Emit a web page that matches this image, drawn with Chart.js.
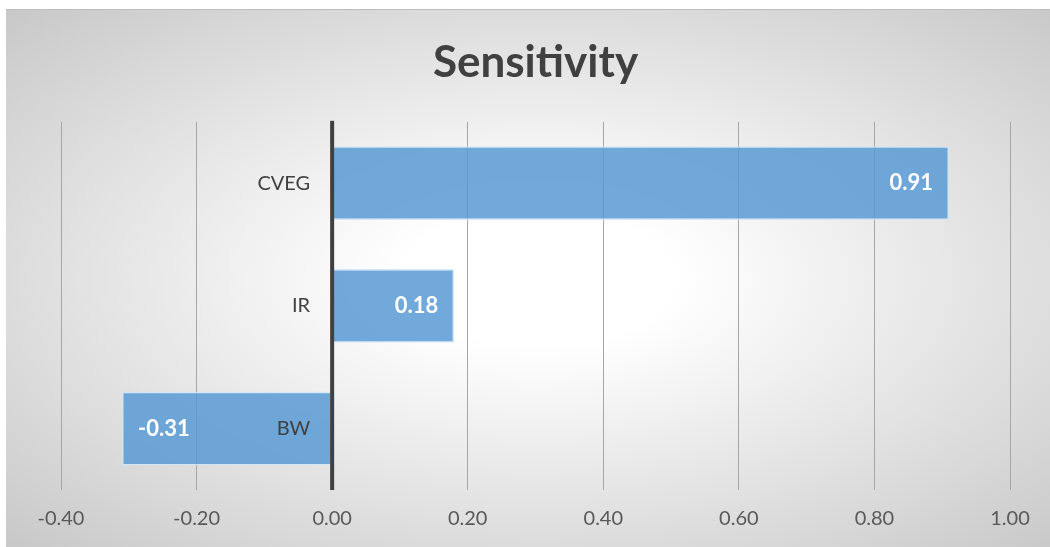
<!DOCTYPE html>
<html>
<head>
<meta charset="utf-8">
<title>Sensitivity</title>
<script src="https://cdn.jsdelivr.net/npm/chart.js@4.4.1/dist/chart.umd.min.js"></script>
<style>
  html, body { margin: 0; padding: 0; background: #fff; }
  #box {
    position: absolute; left: 6px; top: 9px; width: 1044px; height: 538px;
    border-top: 1px solid #bdbdbd;
    box-sizing: border-box;
    background: radial-gradient(ellipse farthest-corner at 51% 50%, #ffffff 0%, #ffffff 18%, #c8c8c8 100%);
  }
  #chart { display: block; }
</style>
</head>
<body>
<div id="box"><canvas id="chart" width="1044" height="537"></canvas></div>
<script>
const categories = ["CVEG", "IR", "BW"];
const sensitivity = [0.91, 0.18, -0.31];
const xMin = -0.4;
const xMax = 1.0;
const xStep = 0.2;

const FONT = "Lato, 'Open Sans', sans-serif";

// category names sit just left of zero, value labels inside bar ends,
// and the dark zero line goes on top of the bars
const overlay = {
  id: "overlay",
  afterDatasetsDraw(chart) {
    const { ctx, chartArea, scales } = chart;
    const x0 = scales.x.getPixelForValue(0);

    ctx.save();
    ctx.fillStyle = "#404040";
    ctx.fillRect(x0 - 2, chartArea.top - 1, 4, chartArea.bottom - chartArea.top + 1);

    ctx.font = "20px " + FONT;
    ctx.textBaseline = "middle";
    ctx.textAlign = "right";
    categories.forEach((c, i) => {
      ctx.fillText(c, x0 - 22, scales.y.getPixelForValue(i));
    });

    ctx.font = "bold 22px " + FONT;
    ctx.fillStyle = "#ffffff";
    chart.getDatasetMeta(0).data.forEach((bar, i) => {
      const v = sensitivity[i];
      if (v >= 0) {
        ctx.textAlign = "right";
        ctx.fillText(v.toFixed(2), bar.x - 16, bar.y);
      } else {
        ctx.textAlign = "left";
        ctx.fillText(v.toFixed(2), bar.x + 16, bar.y);
      }
    });
    ctx.restore();
  }
};

new Chart(document.getElementById("chart"), {
  type: "bar",
  data: {
    labels: categories,
    datasets: [{
      data: sensitivity,
      backgroundColor: "rgba(91,155,213,0.86)",
      borderColor: "rgba(210,228,245,0.9)",
      borderWidth: 1.5,
      borderSkipped: false,
      categoryPercentage: 1,
      barPercentage: 0.6
    }]
  },
  options: {
    indexAxis: "y",
    responsive: false,
    animation: false,
    layout: { padding: { left: 55, right: 40, top: 0, bottom: 0 } },
    plugins: {
      legend: { display: false },
      tooltip: { enabled: false },
      title: {
        display: true,
        text: "Sensitivity",
        color: "#404040",
        font: { family: FONT, size: 44, weight: "bold" },
        padding: { top: 26, bottom: 33 }
      }
    },
    scales: {
      x: {
        min: xMin,
        max: xMax,
        afterFit(scale) { scale.height = 57; },
        ticks: {
          stepSize: xStep,
          color: "#595959",
          padding: 17,
          font: { family: FONT, size: 20 },
          callback: v => (Math.abs(v) < 1e-9 ? 0 : Number(v)).toFixed(2)
        },
        grid: { color: "#a6a6a6", lineWidth: 1, drawTicks: false },
        border: { display: false }
      },
      y: { display: false }
    }
  },
  plugins: [overlay]
});
</script>
</body>
</html>
